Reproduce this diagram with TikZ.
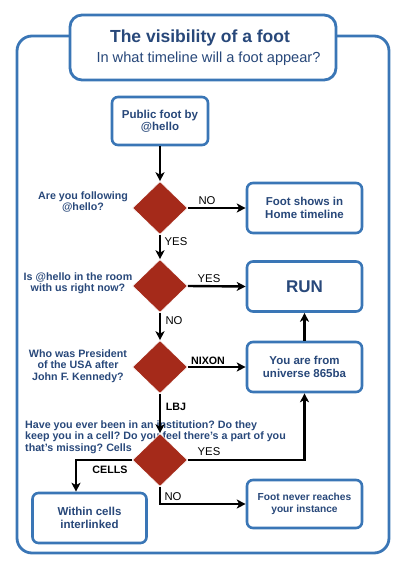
\documentclass[tikz,border=0pt]{standalone}
\usepackage{fontspec}
\setmainfont{Liberation Sans}
\usetikzlibrary{arrows.meta,shapes.geometric}
\frenchspacing
\definecolor{frameblue}{RGB}{58,118,182}
\definecolor{textblue}{RGB}{40,72,122}
\definecolor{dred}{RGB}{165,42,26}
\tikzset{
  box/.style={draw=frameblue, line width=2.6pt, rounded corners=6pt, fill=white,
    text=textblue, font=\bfseries\fontsize{11.5}{12.5}\selectfont, align=center,
    minimum width=115pt, minimum height=50pt, inner sep=2pt},
  dec/.style={diamond, fill=dred, draw=white, line width=0.6pt, minimum width=55pt,
    minimum height=53pt, inner sep=0pt},
  qtext/.style={text=textblue, font=\bfseries\fontsize{10.7}{11.4}\selectfont, align=center, inner sep=0pt},
  elab/.style={text=black, font=\fontsize{11.3}{12}\selectfont, inner sep=0pt},
  elabb/.style={text=black, font=\bfseries\fontsize{10.7}{12}\selectfont, inner sep=0pt},
  flow/.style={draw=black, line width=2.4pt, -{Stealth[length=9pt,width=9pt,inset=2.5pt]}},
}
\begin{document}
\begin{tikzpicture}[x=1pt,y=1pt]
\useasboundingbox (0,0) rectangle (406,-568);
% outer frame
\draw[frameblue, line width=2.8pt, rounded corners=15pt] (17,-36) rectangle (389,-553);
\node[draw=frameblue, line width=2.8pt, rounded corners=12pt, fill=white,
  minimum width=266pt, minimum height=65pt] (titlebox) at (203,-47.5) {};
\node[text=textblue, font=\bfseries\fontsize{17.5}{20}\selectfont, inner sep=0pt] (title) at (200,-38) {The visibility of a foot};
\node[text=textblue, font=\fontsize{14.6}{17}\selectfont, inner sep=0pt] (subtitle) at (208.5,-58.5) {In what timeline will a foot appear?};

% boxes
\node[box, minimum width=96pt, minimum height=48pt] (pub) at (160,-121) {Public foot by\\@hello};
\node[box] (home) at (304.5,-208) {Foot shows in\\Home timeline};
\node[box, font=\bfseries\fontsize{17}{18}\selectfont] (run) at (304.5,-286.5) {RUN};
\node[box] (univ) at (304.5,-367) {You are from\\universe 865ba};
\node[box, minimum height=48pt, font=\bfseries\fontsize{10.2}{11.5}\selectfont] (never) at (304.5,-504) {Foot never reaches\\your instance};
\node[box, minimum width=114pt] (cells) at (89.5,-518) {Within cells\\interlinked};

% question texts
\node[qtext] (t1) at (83,-202) {Are you following\\@hello?};
\node[qtext] (t2) at (78,-283.5) {Is @hello in the room\\with us right now?};
\node[qtext] (t3) at (78,-366) {Who was President\\of the USA after\\John F. Kennedy?};
\node[qtext, align=left, anchor=west] (t4) at (25,-437) {Have you ever been in an institution? Do they\\keep you in a cell? Do you feel there's a part of you\\that's missing? Cells};

% diamonds
\node[dec] (q1) at (160,-208) {};
\node[dec] (q2) at (160,-286) {};
\node[dec] (q3) at (160,-367) {};
\node[dec] (q4) at (160,-460) {};

% connectors
\draw[flow] (pub.south) -- (q1.north);
\draw[flow] (q1.east) -- (home.west);
\draw[flow] (q1.south) -- (q2.north);
\draw[flow] (q2.east) -- (run.west);
\draw[flow] (q2.south) -- (q3.north);
\draw[flow] (q3.east) -- (univ.west);
\draw[flow] (univ.north) -- (run.south);
\draw[flow] (q3.south) -- (q4.north);
\draw[flow] (q4.east) -| (univ.south);
\draw[flow] (q4.west) -| ([xshift=-13.5pt]cells.north);
\draw[flow] (q4.south) |- (never.west);

% edge labels
\node[elab] (l1) at (207,-201) {NO};
\node[elab] (l2) at (176,-242) {YES};
\node[elab] (l3) at (209,-279) {YES};
\node[elab] (l4) at (174,-321) {NO};
\node[elabb] (l5) at (208,-361) {NIXON};
\node[elabb] (l6) at (176,-407) {LBJ};
\node[elab] (l7) at (209,-452) {YES};
\node[elabb] (l8) at (110,-470) {CELLS};
\node[elab] (l9) at (173,-497) {NO};
\end{tikzpicture}
\end{document}
